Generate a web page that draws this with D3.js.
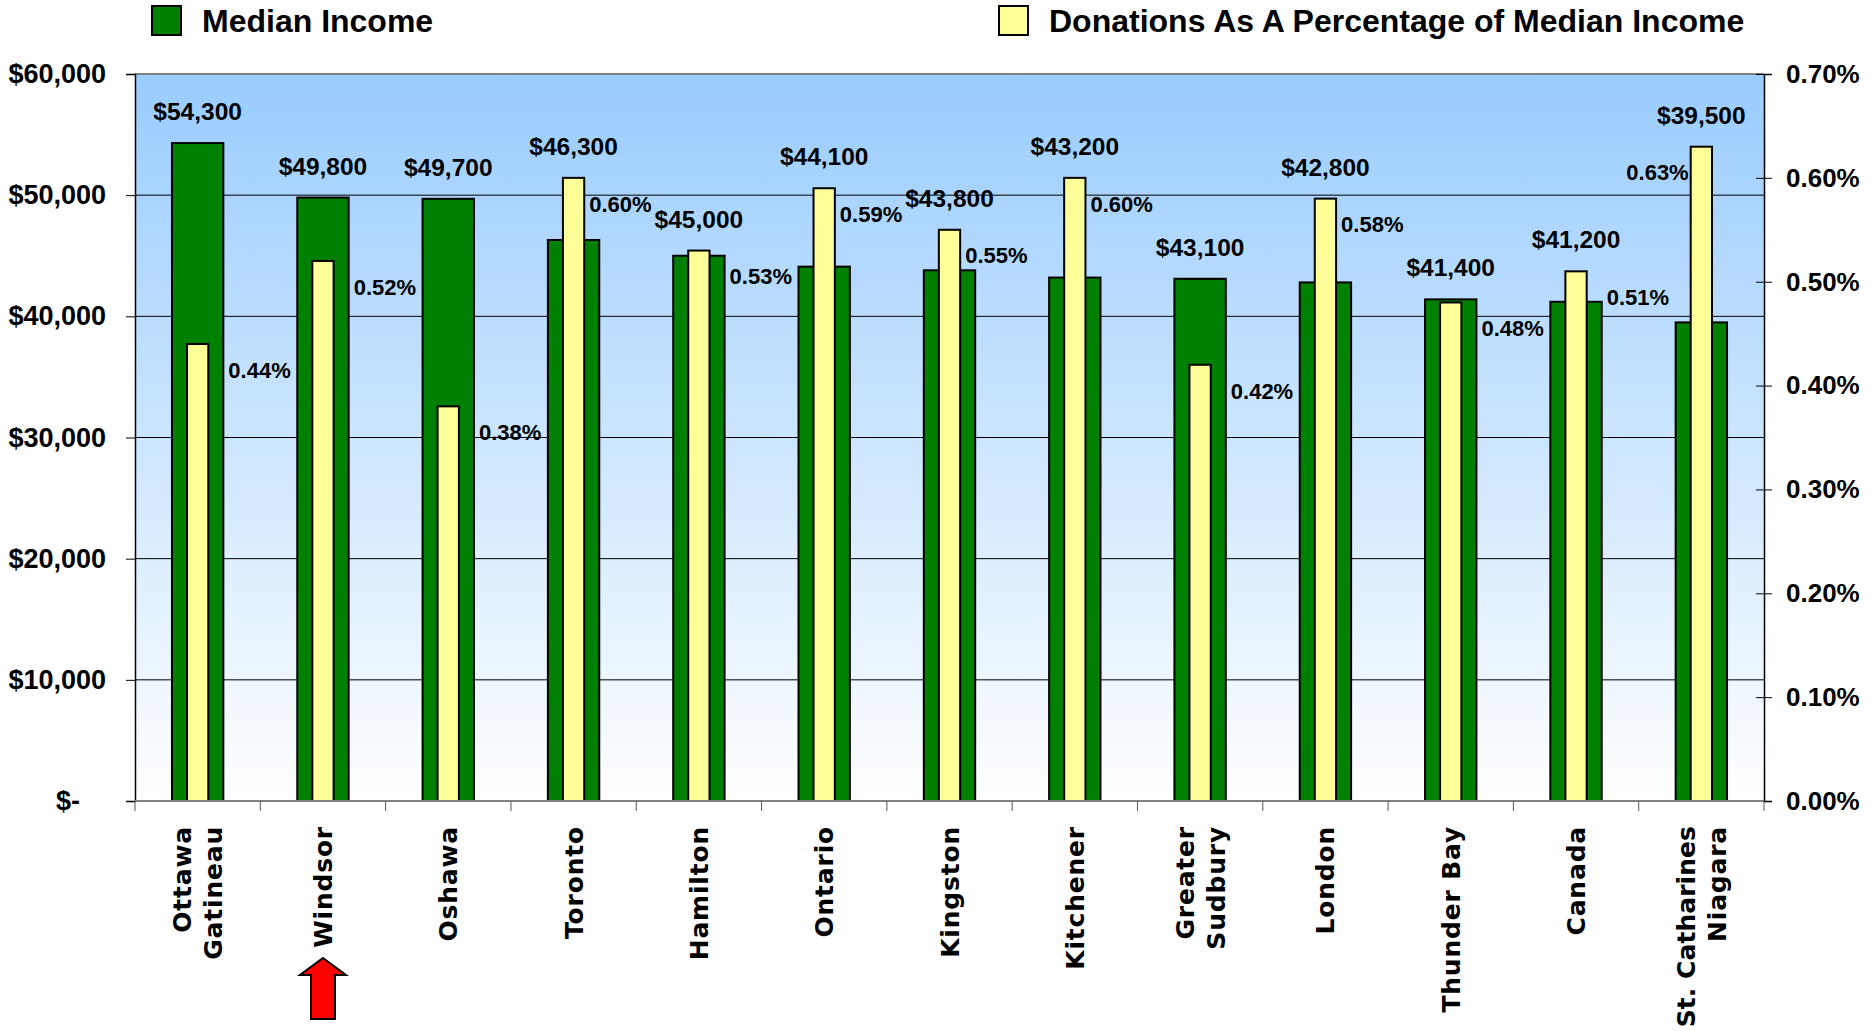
<!DOCTYPE html>
<html>
<head>
<meta charset="utf-8">
<script src="https://cdn.jsdelivr.net/npm/d3@7/dist/d3.min.js"></script>
<style>
  body { margin: 0; background: #ffffff; }
  svg { display: block; }
</style>
</head>
<body>
<svg id="chart" width="1873" height="1031"></svg>
<script>
// ---------------- data ----------------
const categories = [
  "Ottawa\nGatineau", "Windsor", "Oshawa", "Toronto", "Hamilton", "Ontario",
  "Kingston", "Kitchener", "Greater\nSudbury", "London", "Thunder Bay", "Canada",
  "St. Catharines\nNiagara"
];
const medianIncome = [54300, 49800, 49700, 46300, 45000, 44100, 43800, 43200, 43100, 42800, 41400, 41200, 39500];
const donationPct = [0.44, 0.52, 0.38, 0.60, 0.53, 0.59, 0.55, 0.60, 0.42, 0.58, 0.48, 0.51, 0.63];
const incomeTicks = [0, 10000, 20000, 30000, 40000, 50000, 60000];
const pctTicks = [0, 0.1, 0.2, 0.3, 0.4, 0.5, 0.6, 0.7];
const seriesNames = ["Median Income", "Donations As A Percentage of Median Income"];
const highlighted = "Windsor";

// ---------------- layout ----------------
const svg = d3.select("#chart");
const W = 1873, H = 1031;
const L = 135, R = 1764, T = 74, B = 801;
const GREEN = "#008000", YELLOW = "#FFFF99";
const axisFont = "'Liberation Sans', Arial, sans-serif";
const catFont = "'DejaVu Sans', Verdana, sans-serif";

const x = d3.scaleBand().domain(categories).range([L, R]);
const yL = d3.scaleLinear().domain([0, 60000]).range([B, T]);
const yR = d3.scaleLinear().domain([0, 0.7]).range([B, T]);
const bw = x.bandwidth();
const gW = bw * 0.41, yW = bw * 0.17;

const data = categories.map((c, i) => ({ cat: c, inc: medianIncome[i], pct: donationPct[i] }));

// background gradient
const defs = svg.append("defs");
const grad = defs.append("linearGradient").attr("id", "bg").attr("x1", 0).attr("y1", 0).attr("x2", 0).attr("y2", 1);
grad.append("stop").attr("offset", "0%").attr("stop-color", "#99CCFF");
grad.append("stop").attr("offset", "100%").attr("stop-color", "#FFFFFF");
svg.append("rect").attr("x", L).attr("y", T).attr("width", R - L).attr("height", B - T).attr("fill", "url(#bg)");

// gridlines
svg.append("g").selectAll("line").data(incomeTicks.filter(d => d > 0 && d < 60000)).join("line")
  .attr("x1", L).attr("x2", R).attr("y1", d => yL(d)).attr("y2", d => yL(d))
  .attr("stroke", "#000").attr("stroke-width", 1);
// top border
svg.append("line").attr("x1", L).attr("x2", R).attr("y1", T).attr("y2", T).attr("stroke", "#808080").attr("stroke-width", 2);

// bars
const bars = svg.append("g");
bars.selectAll("rect.g").data(data).join("rect").attr("class", "g")
  .attr("x", d => x(d.cat) + bw / 2 - gW / 2).attr("width", gW)
  .attr("y", d => yL(d.inc)).attr("height", d => B - yL(d.inc))
  .attr("fill", GREEN).attr("stroke", "#000").attr("stroke-width", 2);
bars.selectAll("rect.y").data(data).join("rect").attr("class", "y")
  .attr("x", d => x(d.cat) + bw / 2 - yW / 2).attr("width", yW)
  .attr("y", d => yR(d.pct)).attr("height", d => B - yR(d.pct))
  .attr("fill", YELLOW).attr("stroke", "#000").attr("stroke-width", 2);

// income labels
svg.append("g").selectAll("text").data(data).join("text")
  .attr("x", d => x(d.cat) + bw / 2)
  .attr("y", d => Math.min(yL(d.inc), yR(d.pct)) - 23)
  .attr("text-anchor", "middle")
  .attr("font-family", axisFont).attr("font-weight", "bold").attr("font-size", 24.5)
  .text(d => d3.format("$,")(d.inc));

// percentage labels
const fmtPct = d => d.toFixed(2) + "%";
svg.append("g").selectAll("text").data(data).join("text")
  .each(function (d) {
    const t = d3.select(this);
    const cx = x(d.cat) + bw / 2;
    const cy = yR(d.pct) + 26;
    const labelW = 62;
    let px, anchor = "start";
    if (cy + 9 > yL(d.inc)) px = cx + gW / 2 + 5;
    else px = cx + yW / 2 + 5;
    if (px + labelW > R) { px = cx - yW / 2 - 2; anchor = "end"; }
    t.attr("x", px).attr("y", cy).attr("dy", "0.35em").attr("text-anchor", anchor);
  })
  .attr("font-family", axisFont).attr("font-weight", "bold").attr("font-size", 22)
  .text(d => fmtPct(d.pct));

// left axis
const leftAxis = d3.axisLeft(yL).tickValues(incomeTicks).tickSize(9).tickPadding(20)
  .tickFormat(d => d === 0 ? "$-" : d3.format("$,")(d));
const gl = svg.append("g").attr("transform", `translate(${L},0)`).call(leftAxis);
gl.select(".domain").attr("stroke", "#000").attr("stroke-width", 1.5);
gl.selectAll(".tick line").attr("stroke", "#000");
gl.selectAll(".tick text").attr("font-family", axisFont).attr("font-weight", "bold").attr("font-size", 27).attr("fill", "#000");
gl.selectAll(".tick text").filter(d => d === 0).attr("dx", -26);

// right axis
const rightAxis = d3.axisRight(yR).tickValues(pctTicks).tickSize(8).tickPadding(14)
  .tickFormat(d => d.toFixed(2) + "%");
const gr = svg.append("g").attr("transform", `translate(${R},0)`).call(rightAxis);
gr.select(".domain").attr("stroke", "#000").attr("stroke-width", 1.5);
gr.selectAll(".tick line").attr("x1", -8).attr("x2", 8).attr("stroke", "#000");
gr.selectAll(".tick text").attr("font-family", axisFont).attr("font-weight", "bold").attr("font-size", 26).attr("fill", "#000");

// bottom axis
svg.append("line").attr("x1", L).attr("x2", R).attr("y1", B).attr("y2", B).attr("stroke", "#808080").attr("stroke-width", 2);
svg.append("g").selectAll("line").data(d3.range(categories.length + 1)).join("line")
  .attr("x1", i => L + i * bw).attr("x2", i => L + i * bw)
  .attr("y1", B).attr("y2", B + 10).attr("stroke", "#555").attr("stroke-width", 1);

// category labels
const catTop = 826;
const catG = svg.append("g");
data.forEach(d => {
  const lines = d.cat.split("\n");
  const cx = x(d.cat) + bw / 2;
  lines.forEach((ln, j) => {
    const off = (j - (lines.length - 1) / 2) * 31;
    const t = catG.append("text")
      .attr("transform", `translate(${cx + off},${catTop}) rotate(-90)`)
      .attr("text-anchor", "end").attr("dy", "0.36em")
      .attr("font-family", catFont).attr("font-weight", "bold").attr("font-size", 25)
      .attr("letter-spacing", "0.8px")
      .text(ln);
    // keep long labels inside the picture
    const avail = H - catTop - 3;
    const len = t.node().getComputedTextLength();
    if (len > avail) {
      const n = Math.max(1, ln.length - 1);
      const ls = Math.max(-1, 0.8 - (len - avail) / n);
      t.attr("letter-spacing", ls + "px");
      if (t.node().getComputedTextLength() > avail) t.attr("textLength", avail).attr("lengthAdjust", "spacingAndGlyphs");
    }
  });
});

// highlight arrow
const ax = x(categories.find(c => c === highlighted)) + bw / 2;
svg.append("path")
  .attr("d", d3.line()([[ax, 958], [ax + 23, 975], [ax + 12, 975], [ax + 12, 1019], [ax - 12, 1019], [ax - 12, 975], [ax - 23, 975]]) + "Z")
  .attr("fill", "#FF0000").attr("stroke", "#000").attr("stroke-width", 2);

// legend
const legendPos = [{ sx: 152, tx: 202 }, { sx: 999, tx: 1049 }];
const lg = svg.append("g");
seriesNames.forEach((n, i) => {
  lg.append("rect").attr("x", legendPos[i].sx).attr("y", 6).attr("width", 29).attr("height", 29)
    .attr("fill", i === 0 ? GREEN : YELLOW).attr("stroke", "#000").attr("stroke-width", 2);
  lg.append("text").attr("x", legendPos[i].tx).attr("y", 21).attr("dy", "0.35em")
    .attr("font-family", axisFont).attr("font-weight", "bold").attr("font-size", 32).text(n);
});
</script>
</body>
</html>
